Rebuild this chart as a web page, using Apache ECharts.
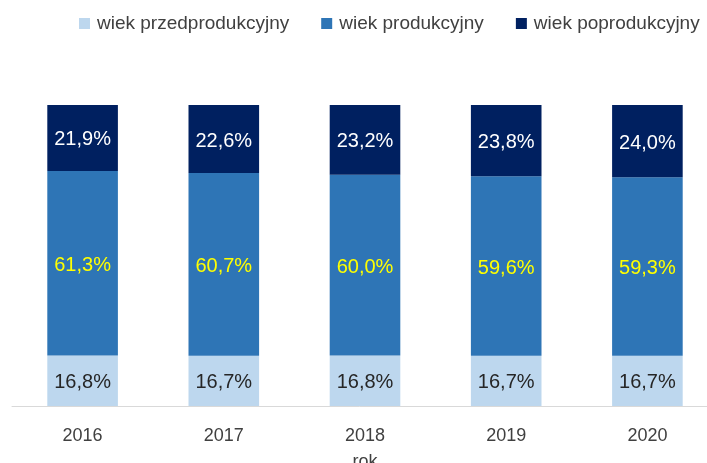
<!DOCTYPE html>
<html>
<head>
<meta charset="utf-8">
<script src="https://cdn.jsdelivr.net/npm/echarts@6/dist/echarts.min.js"></script>
<style>
html,body{margin:0;padding:0;background:#fff;}
#chart{width:707px;height:463px;}
</style>
</head>
<body>
<div id="chart"></div>
<script>
const categories = ['2016', '2017', '2018', '2019', '2020'];
const seriesNames = ['wiek przedprodukcyjny', 'wiek produkcyjny', 'wiek poprodukcyjny'];
const przedprodukcyjny = [16.8, 16.7, 16.8, 16.7, 16.7];
const produkcyjny = [61.3, 60.7, 60.0, 59.6, 59.3];
const poprodukcyjny = [21.9, 22.6, 23.2, 23.8, 24.0];
const axisName = 'rok';

const colors = ['#BDD7EE', '#2E75B6', '#002060'];
const labelColors = ['#262626', '#FFFF00', '#FFFFFF'];
const dataSets = [przedprodukcyjny, produkcyjny, poprodukcyjny];
const fontFamily = '"Liberation Sans", Arial, sans-serif';

const chart = echarts.init(document.getElementById('chart'), null, {renderer: 'canvas'});
chart.setOption({
  animation: false,
  textStyle: {fontFamily: fontFamily},
  legend: {
    left: 79,
    top: 14,
    width: 660,
    padding: 0,
    itemWidth: 11,
    itemHeight: 11,
    itemGap: 32,
    icon: 'rect',
    textStyle: {fontSize: 19, color: '#404040', fontFamily: fontFamily, padding: [0, 0, 0, 2]},
    data: seriesNames
  },
  grid: {left: 12, top: 105, width: 706, height: 301, containLabel: false, outerBoundsMode: 'none'},
  xAxis: {
    type: 'category',
    data: categories,
    name: axisName,
    nameLocation: 'middle',
    nameGap: 47,
    nameTextStyle: {fontSize: 18, color: '#404040', fontFamily: fontFamily},
    axisLine: {lineStyle: {color: '#D9D9D9', width: 1}},
    axisTick: {show: false},
    axisLabel: {fontSize: 18, color: '#404040', margin: 21, fontFamily: fontFamily}
  },
  yAxis: {
    type: 'value',
    min: 0,
    max: 100,
    show: false,
    splitLine: {show: false}
  },
  series: seriesNames.map((name, i) => ({
    name: name,
    type: 'bar',
    stack: 'total',
    barWidth: '50%',
    data: dataSets[i],
    itemStyle: {color: colors[i]},
    label: {
      show: true,
      position: 'inside',
      offset: [0, 2],
      fontSize: 20,
      color: labelColors[i],
      fontFamily: fontFamily,
      formatter: p => p.value.toFixed(1).replace('.', ',') + '%'
    }
  }))
});
</script>
</body>
</html>
